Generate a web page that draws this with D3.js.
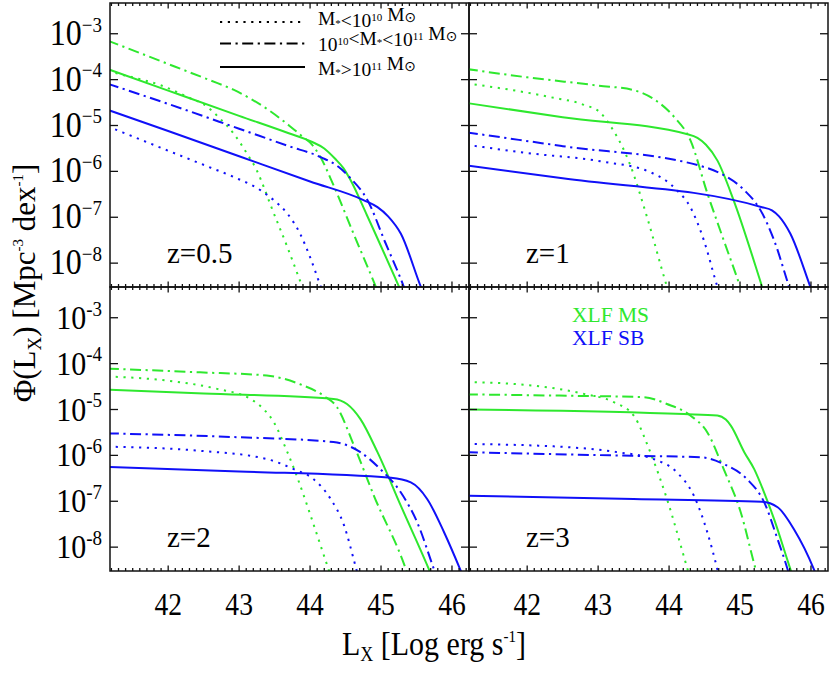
<!DOCTYPE html>
<html><head><meta charset="utf-8">
<script src="https://cdn.jsdelivr.net/npm/d3@7"></script>
<style>body{margin:0;background:#fff}svg{display:block}text{font-family:"Liberation Serif","Times New Roman",serif;fill:#000}</style>
</head><body><svg id="c" width="830" height="679"></svg>
<script>
// ---------- data (x = log Lx, y = log10 Phi) ----------
const xTicks = [42, 43, 44, 45, 46];
const yTickExps = [-3, -4, -5, -6, -7, -8];
const panelLabels = ["z=0.5", "z=1", "z=2", "z=3"];
const seriesLabels = ["XLF MS", "XLF SB"];

// z = 0.5
const z05_MS_low  = [[41.15,-3.82],[41.5,-3.95],[41.89,-4.12],[42.26,-4.37],[42.55,-4.59],[42.73,-4.85],[42.92,-5.17],[43.11,-5.61],[43.25,-5.98],[43.35,-6.35],[43.44,-6.72],[43.68,-7.65],[43.89,-8.51],[43.95,-8.75]];
const z05_MS_mid  = [[41.15,-3.15],[41.6,-3.42],[42.1,-3.72],[42.6,-4.02],[42.92,-4.22],[43.2,-4.45],[43.45,-4.7],[43.72,-5.02],[43.9,-5.25],[44.03,-5.42],[44.15,-5.7],[44.33,-6.3],[44.61,-7.35],[44.92,-8.49],[45.0,-8.8]];
const z05_MS_high = [[41.15,-3.77],[42.0,-4.24],[43.0,-4.79],[43.7,-5.17],[44.03,-5.36],[44.2,-5.5],[44.35,-5.72],[44.47,-5.93],[44.57,-6.19],[44.8,-6.95],[45.25,-8.5],[45.35,-8.85]];
const z05_SB_low  = [[41.15,-5.02],[42.0,-5.55],[42.6,-5.92],[42.92,-6.12],[43.3,-6.41],[43.49,-6.63],[43.68,-6.92],[43.86,-7.36],[44.0,-7.87],[44.15,-8.51],[44.22,-8.8]];
const z05_SB_mid  = [[41.15,-4.09],[42.0,-4.53],[43.0,-5.07],[43.7,-5.45],[44.15,-5.69],[44.4,-5.9],[44.57,-6.15],[44.81,-6.63],[45.06,-7.55],[45.32,-8.51],[45.4,-8.85]];
const z05_SB_high = [[41.15,-4.66],[42.0,-5.12],[43.0,-5.67],[44.0,-6.22],[44.76,-6.63],[44.95,-6.78],[45.1,-6.98],[45.28,-7.36],[45.56,-8.51],[45.65,-8.85]];
// z = 1
const z1_MS_low  = [[41.15,-4.08],[42.32,-4.38],[42.8,-4.55],[43.03,-4.72],[43.17,-5.0],[43.45,-5.85],[43.69,-7.0],[43.97,-8.51],[44.03,-8.8]];
const z1_MS_mid  = [[41.15,-3.77],[42.0,-3.95],[43.0,-4.13],[43.5,-4.23],[43.78,-4.42],[44.07,-4.81],[44.3,-5.32],[44.54,-6.48],[44.77,-7.5],[45.0,-8.51],[45.06,-8.8]];
const z1_MS_high = [[41.15,-4.51],[42.5,-4.82],[44.26,-5.19],[44.4,-5.27],[44.52,-5.42],[44.68,-5.76],[44.91,-6.63],[45.31,-8.51],[45.38,-8.85]];
const z1_SB_low  = [[41.15,-5.42],[42.0,-5.6],[43.03,-5.78],[43.74,-6.02],[44.11,-6.41],[44.3,-6.78],[44.49,-7.5],[44.68,-8.51],[44.74,-8.8]];
const z1_SB_mid  = [[41.15,-5.15],[42.5,-5.45],[44.44,-5.88],[44.73,-6.05],[45.06,-6.41],[45.29,-6.85],[45.48,-7.5],[45.69,-8.51],[45.75,-8.8]];
const z1_SB_high = [[41.15,-5.87],[42.5,-6.15],[45.31,-6.78],[45.45,-6.85],[45.55,-6.98],[45.71,-7.36],[45.99,-8.51],[46.07,-8.85]];
// z = 2
const z2_MS_low  = [[41.15,-4.28],[41.98,-4.37],[42.69,-4.55],[43.16,-4.77],[43.35,-5.0],[43.49,-5.28],[43.68,-5.93],[44.26,-8.48],[44.33,-8.8]];
const z2_MS_mid  = [[41.15,-4.11],[42.45,-4.19],[43.39,-4.26],[43.86,-4.45],[44.19,-4.7],[44.38,-4.95],[44.62,-5.79],[44.9,-6.88],[45.35,-8.48],[45.42,-8.8]];
const z2_MS_high = [[41.15,-4.57],[42.5,-4.65],[44.33,-4.77],[44.52,-4.88],[44.71,-5.21],[44.95,-5.93],[45.28,-7.1],[45.68,-8.5],[45.76,-8.8]];
const z2_SB_low  = [[41.15,-5.81],[42.45,-5.9],[43.39,-6.08],[43.77,-6.3],[44.05,-6.52],[44.29,-6.95],[44.48,-7.53],[44.64,-8.41],[44.7,-8.75]];
const z2_SB_mid  = [[41.15,-5.52],[42.92,-5.6],[44.33,-5.71],[44.71,-5.93],[44.99,-6.3],[45.28,-6.81],[45.51,-7.46],[45.75,-8.5],[45.82,-8.8]];
const z2_SB_high = [[41.15,-6.25],[43.0,-6.35],[45.14,-6.49],[45.42,-6.59],[45.65,-6.95],[45.89,-7.68],[46.12,-8.5],[46.2,-8.8]];
// z = 3
const z3_MS_low  = [[41.15,-4.4],[42.09,-4.48],[42.8,-4.66],[43.22,-4.84],[43.5,-5.13],[43.74,-5.95],[43.97,-6.95],[44.26,-8.48],[44.32,-8.8]];
const z3_MS_mid  = [[41.15,-4.67],[42.56,-4.7],[43.64,-4.73],[43.97,-4.88],[44.3,-5.13],[44.54,-5.5],[44.77,-6.3],[45.01,-7.24],[45.22,-8.48],[45.28,-8.8]];
const z3_MS_high = [[41.15,-5.0],[44.21,-5.1],[44.68,-5.13],[44.8,-5.22],[44.87,-5.35],[45.06,-5.93],[45.2,-6.3],[45.34,-6.81],[45.48,-7.39],[45.71,-8.48],[45.78,-8.8]];
const z3_SB_low  = [[41.15,-5.75],[42.56,-5.82],[43.27,-5.93],[43.78,-6.08],[44.11,-6.37],[44.35,-6.88],[44.54,-7.68],[44.68,-8.48],[44.73,-8.8]];
const z3_SB_mid  = [[41.15,-5.93],[43.5,-6.01],[44.44,-6.04],[44.77,-6.19],[45.1,-6.52],[45.34,-7.02],[45.53,-7.83],[45.67,-8.48],[45.73,-8.8]];
const z3_SB_high = [[41.15,-6.88],[43.5,-6.95],[45.31,-7.01],[45.53,-7.13],[45.76,-7.61],[46.04,-8.48],[46.12,-8.8]];

const panelData = [
  [z05_MS_low, z05_MS_mid, z05_MS_high, z05_SB_low, z05_SB_mid, z05_SB_high],
  [z1_MS_low, z1_MS_mid, z1_MS_high, z1_SB_low, z1_SB_mid, z1_SB_high],
  [z2_MS_low, z2_MS_mid, z2_MS_high, z2_SB_low, z2_SB_mid, z2_SB_high],
  [z3_MS_low, z3_MS_mid, z3_MS_high, z3_SB_low, z3_SB_mid, z3_SB_high]
];

// ---------- styles ----------
const GREEN = "#2ee82e", BLUE = "#1010f8";
const colors = [GREEN, GREEN, GREEN, BLUE, BLUE, BLUE];
const DOT = "2.2,5.6", DASHDOT = "11,4.5,2.2,4.5";
const dashes = [DOT, DASHDOT, null, DOT, DASHDOT, null];

const svg = d3.select("#c");
const X0 = [110, 469], PW = 359, Y0 = [3, 287], PH = 284;

const panels = [[0,0],[1,0],[0,1],[1,1]];
panels.forEach(([c, r], i) => {
  const x = d3.scaleLinear().domain([41.18, 46.24]).range([X0[c], X0[c] + PW]);
  const y = d3.scaleLog().domain([Math.pow(10, -8.52), Math.pow(10, -2.33)]).range([Y0[r] + PH, Y0[r]]);
  const g = svg.append("g");
  const clipId = "clip" + i;
  svg.append("clipPath").attr("id", clipId).append("rect")
    .attr("x", X0[c]).attr("y", Y0[r]).attr("width", PW).attr("height", PH);
  const line = d3.line().x(d => x(d[0])).y(d => y(Math.pow(10, d[1]))).curve(d3.curveMonotoneX);
  const lg = g.append("g").attr("clip-path", `url(#${clipId})`);
  panelData[i].forEach((s, k) => {
    lg.append("path").attr("d", line(s)).attr("fill", "none")
      .attr("stroke", colors[k]).attr("stroke-width", 2)
      .attr("stroke-dasharray", dashes[k]);
  });
  const minors = d3.range(41.2, 46.25, 0.1).map(v => Math.round(v * 10) / 10);
  const ticksG = g.append("g").attr("stroke", "#111").attr("stroke-width", 1.3);
  minors.forEach(v => {
    const major = Math.abs(v - Math.round(v)) < 1e-6;
    const len = major ? 5.5 : 3;
    ticksG.append("line").attr("x1", x(v)).attr("x2", x(v)).attr("y1", Y0[r]).attr("y2", Y0[r] + len);
    ticksG.append("line").attr("x1", x(v)).attr("x2", x(v)).attr("y1", Y0[r] + PH).attr("y2", Y0[r] + PH - len);
  });
  yTickExps.forEach(e => {
    const yy = y(Math.pow(10, e));
    ticksG.append("line").attr("x1", X0[c]).attr("x2", X0[c] + 8).attr("y1", yy).attr("y2", yy);
    ticksG.append("line").attr("x1", X0[c] + PW).attr("x2", X0[c] + PW - 8).attr("y1", yy).attr("y2", yy);
  });
  g.append("rect").attr("x", X0[c]).attr("y", Y0[r]).attr("width", PW).attr("height", PH)
    .attr("fill", "none").attr("stroke", "#111").attr("stroke-width", 1.5);

  if (c === 0) {
    yTickExps.forEach(e => {
      const yy = y(Math.pow(10, e));
      const t = svg.append("text").attr("transform", `translate(102,${yy + 11}) scale(1,1.1)`).attr("text-anchor", "end")
        .style("font-size", r === 0 ? "32px" : "30px");
      t.append("tspan").text("10");
      t.append("tspan").attr("dy", -12).style("font-size", "19px").text((r === 0 ? "\u2212" : "-") + Math.abs(e));
    });
  }
  if (r === 1) {
    xTicks.forEach(v => {
      svg.append("text").attr("transform", `translate(${x(v)},615) scale(0.95,1.1)`).attr("text-anchor", "middle")
        .style("font-size", "29px").text(v);
    });
  }
  svg.append("text").attr("x", X0[c] + 57).attr("y", Y0[r] + 260)
    .style("font-size", "29px").text(panelLabels[i]);
});

// legend (top-left panel)
const legRows = [[22, DOT], [43.5, DASHDOT], [67, null]];
legRows.forEach(([yy, da]) => {
  svg.append("line").attr("x1", 220).attr("x2", 305).attr("y1", yy).attr("y2", yy)
    .attr("stroke", "#000").attr("stroke-width", 2).attr("stroke-dasharray", da);
});
const FS = "19.5px", SS = "11px";
function sup(t, s) { t.append("tspan").attr("dy", -6).style("font-size", SS).text(s); t.append("tspan").attr("dy", 6).text(""); }
function star(t) { t.append("tspan").attr("dy", 1.5).style("font-size", SS).text("*"); t.append("tspan").attr("dy", -1.5).text(""); }
function sun(t) {
  t.append("tspan").text(" M");
  t.append("tspan").attr("dy", 1).style("font-size", "14px").style("font-family", "DejaVu Sans").text("\u2299");
}
{
  const t = svg.append("text").attr("x", 318).attr("y", 25).style("font-size", FS);
  t.append("tspan").text("M"); star(t); t.append("tspan").text("<10"); sup(t, "10"); sun(t);
}
{
  const t = svg.append("text").attr("x", 318).attr("y", 50.5).style("font-size", FS);
  t.append("tspan").text("10"); sup(t, "10"); t.append("tspan").text("<M"); star(t);
  t.append("tspan").text("<10"); sup(t, "11"); sun(t);
}
{
  const t = svg.append("text").attr("x", 318).attr("y", 74.5).style("font-size", FS);
  t.append("tspan").text("M"); star(t); t.append("tspan").text(">10"); sup(t, "11"); sun(t);
}

// series labels
svg.append("text").attr("x", 572).attr("y", 322).style("font-size", "21.5px").style("fill", GREEN).text(seriesLabels[0]);
svg.append("text").attr("x", 572).attr("y", 345).style("font-size", "21.5px").style("fill", BLUE).text(seriesLabels[1]);

// axis titles
{
  const t = svg.append("text").attr("transform", "translate(35,283) rotate(-90)").attr("text-anchor", "middle")
    .style("font-size", "31px");
  t.append("tspan").text("\u03A6(L");
  t.append("tspan").attr("dy", 6).style("font-size", "19px").text("X");
  t.append("tspan").attr("dy", -6).text(") [Mpc");
  t.append("tspan").attr("dy", -12).style("font-size", "15px").text("-3");
  t.append("tspan").attr("dy", 12).text(" dex");
  t.append("tspan").attr("dy", -12).style("font-size", "15px").text("-1");
  t.append("tspan").attr("dy", 12).text("]");
}
{
  const t = svg.append("text").attr("transform", "translate(434,655) scale(1,1.15)").attr("text-anchor", "middle").style("font-size", "30px");
  t.append("tspan").text("L");
  t.append("tspan").attr("dy", 5).style("font-size", "18px").text("X");
  t.append("tspan").attr("dy", -5).text(" [Log erg s");
  t.append("tspan").attr("dy", -11).style("font-size", "15px").text("-1");
  t.append("tspan").attr("dy", 11).text("]");
}
</script></body></html>
